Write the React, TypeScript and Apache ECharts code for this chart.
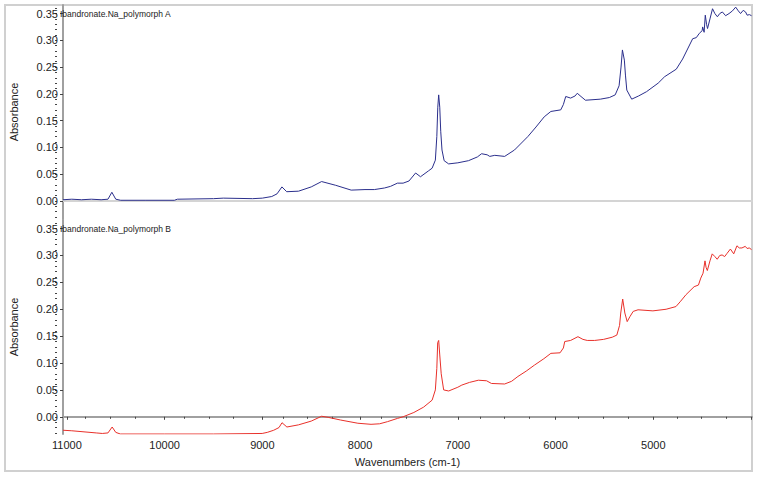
import React, { useEffect, useRef } from "react";
import * as echarts from "echarts";

const topWn = [11040, 10950, 10850, 10750, 10650, 10580, 10540, 10500, 10450, 10200, 9900, 9870, 9500, 9400, 9100, 9000, 8904, 8850, 8800, 8751, 8630, 8500, 8394, 8250, 8091, 7950, 7854, 7750, 7689, 7618, 7560, 7500, 7432, 7382, 7300, 7263, 7230, 7215, 7205, 7196, 7185, 7175, 7162, 7140, 7094, 7000, 6891, 6800, 6757, 6700, 6673, 6622, 6521, 6420, 6284, 6200, 6116, 6048, 5947, 5920, 5896, 5846, 5800, 5778, 5740, 5694, 5542, 5450, 5390, 5350, 5330, 5316, 5296, 5285, 5271, 5221, 5150, 5069, 4950, 4884, 4765, 4700, 4597, 4560, 4529, 4500, 4495, 4480, 4468, 4455, 4445, 4420, 4394, 4370, 4344, 4320, 4293, 4260, 4225, 4190, 4157, 4130, 4107, 4080, 4056, 4040, 4016, 3995];
const topAbs = [0.002, 0.003, 0.002, 0.003, 0.002, 0.003, 0.016, 0.003, 0.001, 0.001, 0.001, 0.003, 0.004, 0.005, 0.004, 0.005, 0.008, 0.013, 0.026, 0.017, 0.018, 0.026, 0.036, 0.029, 0.020, 0.021, 0.021, 0.024, 0.027, 0.033, 0.033, 0.037, 0.052, 0.045, 0.056, 0.061, 0.076, 0.12, 0.175, 0.198, 0.175, 0.13, 0.095, 0.075, 0.069, 0.071, 0.075, 0.082, 0.088, 0.086, 0.083, 0.085, 0.083, 0.095, 0.120, 0.138, 0.157, 0.167, 0.170, 0.180, 0.195, 0.192, 0.196, 0.201, 0.195, 0.188, 0.190, 0.193, 0.198, 0.215, 0.250, 0.282, 0.263, 0.235, 0.207, 0.190, 0.196, 0.204, 0.220, 0.232, 0.246, 0.265, 0.303, 0.305, 0.313, 0.318, 0.325, 0.315, 0.347, 0.330, 0.322, 0.340, 0.359, 0.350, 0.344, 0.350, 0.353, 0.346, 0.350, 0.355, 0.362, 0.355, 0.350, 0.356, 0.353, 0.347, 0.348, 0.346];

const botWn = [11040, 10950, 10825, 10700, 10638, 10580, 10537, 10500, 10453, 10000, 9500, 9002, 8950, 8884, 8830, 8799, 8749, 8630, 8500, 8394, 8327, 8200, 8023, 7888, 7800, 7719, 7618, 7560, 7450, 7350, 7263, 7230, 7215, 7206, 7196, 7185, 7170, 7145, 7094, 7000, 6959, 6880, 6790, 6706, 6656, 6521, 6450, 6385, 6300, 6217, 6120, 6048, 5954, 5920, 5906, 5846, 5771, 5720, 5676, 5600, 5508, 5420, 5373, 5345, 5333, 5313, 5291, 5267, 5240, 5206, 5156, 5004, 4869, 4768, 4720, 4666, 4582, 4538, 4514, 4491, 4471, 4460, 4447, 4420, 4397, 4370, 4346, 4320, 4296, 4270, 4245, 4211, 4177, 4144, 4120, 4093, 4059, 4040, 4018, 3995];
const botAbs = [-0.025, -0.026, -0.028, -0.030, -0.031, -0.030, -0.019, -0.029, -0.032, -0.032, -0.032, -0.031, -0.029, -0.025, -0.020, -0.011, -0.019, -0.015, -0.008, 0.001, -0.001, -0.006, -0.012, -0.014, -0.013, -0.009, -0.003, 0.000, 0.008, 0.018, 0.031, 0.050, 0.090, 0.138, 0.142, 0.115, 0.080, 0.050, 0.048, 0.055, 0.059, 0.064, 0.068, 0.067, 0.062, 0.061, 0.066, 0.075, 0.085, 0.096, 0.108, 0.118, 0.119, 0.128, 0.140, 0.142, 0.149, 0.144, 0.142, 0.142, 0.144, 0.148, 0.152, 0.170, 0.193, 0.219, 0.193, 0.177, 0.186, 0.196, 0.199, 0.197, 0.200, 0.205, 0.215, 0.227, 0.242, 0.245, 0.258, 0.267, 0.290, 0.278, 0.272, 0.290, 0.303, 0.298, 0.293, 0.300, 0.301, 0.298, 0.304, 0.312, 0.303, 0.318, 0.314, 0.314, 0.317, 0.313, 0.314, 0.311];

const xMajorTicks = [11000, 10000, 9000, 8000, 7000, 6000, 5000, 4000];
const xLabelValues = [11000, 10000, 9000, 8000, 7000, 6000, 5000];
const yMajorTicks = [0.0, 0.05, 0.1, 0.15, 0.2, 0.25, 0.3, 0.35];

const titleA = "Ibandronate.Na_polymorph A";
const titleB = "Ibandronate.Na_polymorph B";
const yName = "Absorbance";
const xName = "Wavenumbers (cm-1)";

const FONT = "'Liberation Sans', Arial, sans-serif";

function range(a: number, b: number, step: number): number[] {
  const out: number[] = [];
  const n = Math.round((b - a) / step);
  for (let i = 0; i <= n; i++) out.push(Math.round((a + i * step) * 1e6) / 1e6);
  return out;
}

const xMinorTicks = range(4000, 11000, 250).filter((v) => v % 1000 !== 0);
const yMinorTicks = range(-0.03, 0.36, 0.01);

export default function App() {
  const ref = useRef<HTMLDivElement>(null);
  useEffect(() => {
    if (!ref.current) return;
    const chart = echarts.init(ref.current, null, { renderer: "svg" });
    const axisGray = "#a0a0a0";
    const tickDark = "#444";
    const xMin = 3990;
    const xMax = 11040;
    const topMin = -0.034;
    const botMin = -0.032;
    const yMax = 0.366;

    const yMajor = (gridIndex: number, min: number) => ({
      type: "value",
      gridIndex,
      position: "left",
      min,
      max: yMax,
      name: yName,
      nameLocation: "middle",
      nameGap: 44,
      nameTextStyle: { fontFamily: FONT, fontSize: 11, color: "#222" },
      axisLine: { show: true, lineStyle: { color: axisGray, width: 2 } },
      axisTick: { show: true, length: 3, customValues: yMajorTicks, lineStyle: { color: tickDark } },
      axisLabel: {
        show: true,
        customValues: yMajorTicks,
        margin: 5,
        fontFamily: FONT,
        fontSize: 11,
        color: "#222",
        formatter: (v: number) => v.toFixed(2),
      },
      splitLine: { show: false },
    });
    const yMinor = (gridIndex: number, min: number) => ({
      type: "value",
      gridIndex,
      position: "left",
      min,
      max: yMax,
      axisLine: { show: false },
      axisTick: { show: true, length: 2, customValues: yMinorTicks, lineStyle: { color: tickDark } },
      axisLabel: { show: false },
      splitLine: { show: false },
    });
    const xHidden = (gridIndex: number) => ({
      type: "value",
      gridIndex,
      position: "bottom",
      min: xMin,
      max: xMax,
      inverse: true,
      axisLine: { show: false },
      axisTick: { show: false },
      axisLabel: { show: false },
      splitLine: { show: false },
    });

    chart.setOption({
      animation: false,
      backgroundColor: "#ffffff",
      grid: [
        { left: 57, top: 5, width: 695, height: 214 },
        { left: 57, top: 220, width: 695, height: 214 },
        { left: 57, top: 5, width: 695, height: 214 },
        { left: 57, top: 220, width: 695, height: 214 },
      ],
      xAxis: [
        {
          type: "value",
          gridIndex: 0,
          position: "bottom",
          min: xMin,
          max: xMax,
          inverse: true,
          axisLine: { show: true, lineStyle: { color: "#d4d4d4", width: 2 } },
          axisTick: { show: false },
          axisLabel: { show: false },
          splitLine: { show: false },
        },
        {
          type: "value",
          gridIndex: 1,
          position: "bottom",
          min: xMin,
          max: xMax,
          inverse: true,
          name: xName,
          nameLocation: "middle",
          nameGap: 22,
          nameTextStyle: { fontFamily: FONT, fontSize: 11, color: "#222" },
          axisLine: { show: true, lineStyle: { color: axisGray, width: 2 } },
          axisTick: { show: true, length: 3, customValues: xMajorTicks, lineStyle: { color: tickDark } },
          axisLabel: {
            show: true,
            customValues: xLabelValues,
            margin: 5,
            fontFamily: FONT,
            fontSize: 11,
            color: "#222",
            formatter: (v: number) => String(v),
          },
          splitLine: { show: false },
        },
        xHidden(2),
        {
          type: "value",
          gridIndex: 3,
          position: "bottom",
          min: xMin,
          max: xMax,
          inverse: true,
          axisLine: { show: false },
          axisTick: { show: true, length: 2, customValues: xMinorTicks, lineStyle: { color: tickDark } },
          axisLabel: { show: false },
          splitLine: { show: false },
        },
      ],
      yAxis: [yMajor(0, topMin), yMajor(1, botMin), yMinor(2, topMin), yMinor(3, botMin)],
      series: [
        {
          type: "line",
          xAxisIndex: 0,
          yAxisIndex: 0,
          data: topWn.map((w, i) => [w, topAbs[i]]),
          showSymbol: false,
          symbol: "none",
          lineStyle: { color: "#2b2f8c", width: 1 },
        },
        {
          type: "line",
          xAxisIndex: 1,
          yAxisIndex: 1,
          data: botWn.map((w, i) => [w, botAbs[i]]),
          showSymbol: false,
          symbol: "none",
          lineStyle: { color: "#e8302a", width: 1 },
        },
      ],
      graphic: [
        {
          type: "rect",
          shape: { x: 5, y: 5, width: 747, height: 466 },
          style: { fill: "none", stroke: "#d0d0d0", lineWidth: 2 },
          silent: true,
          z: 0,
        },
        {
          type: "text",
          x: 60,
          y: 14,
          z: 100,
          style: { text: titleA, fontFamily: FONT, fontSize: 8.5, fill: "#222", textVerticalAlign: "middle" },
        },
        {
          type: "text",
          x: 60,
          y: 229,
          z: 100,
          style: { text: titleB, fontFamily: FONT, fontSize: 8.5, fill: "#222", textVerticalAlign: "middle" },
        },
      ],
    });
    return () => chart.dispose();
  }, []);
  return (
    <div
      ref={ref}
      style={{ position: "fixed", left: 0, top: 0, width: 760, height: 479, background: "#fff" }}
    />
  );
}
